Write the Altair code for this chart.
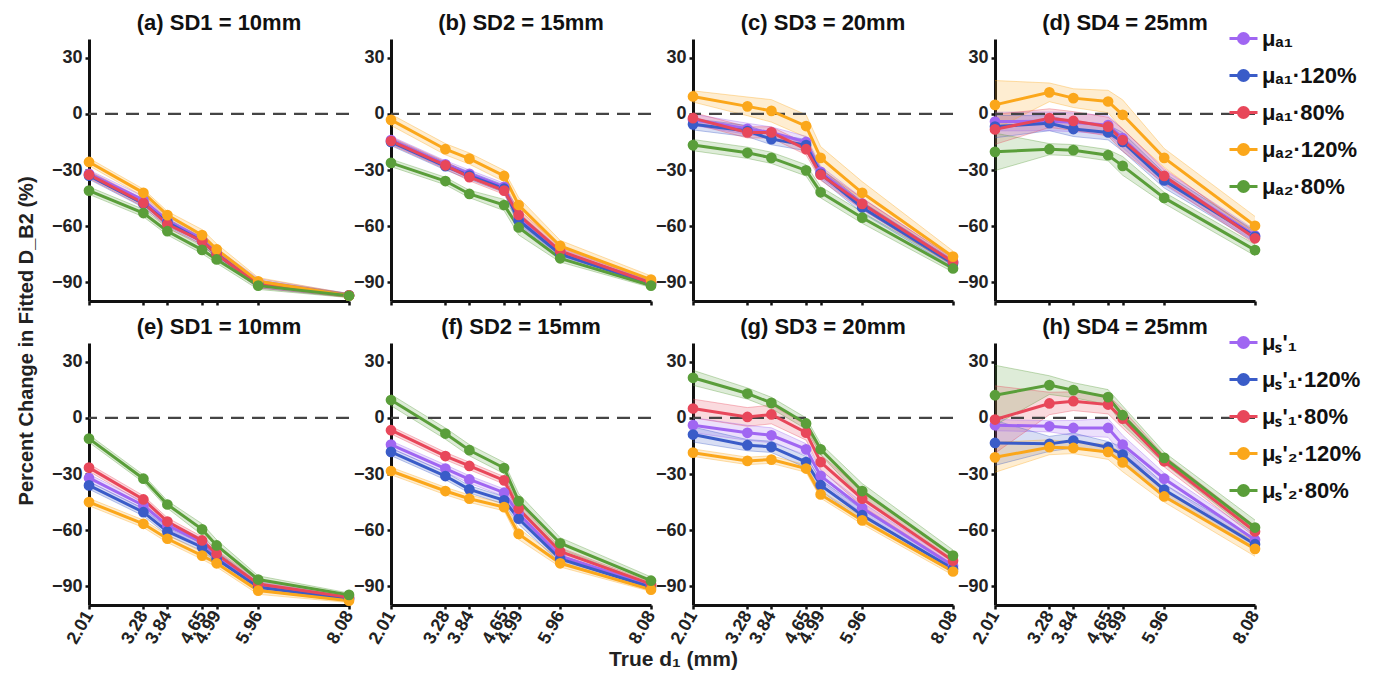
import altair as alt
import pandas as pd

d1 = [2.01, 3.28, 3.84, 4.65, 4.99, 5.96, 8.08]
y_ticks = [-90, -60, -30, 0, 30]

top_series = ["μₐ₁", "μₐ₁·120%", "μₐ₁·80%", "μₐ₂·120%", "μₐ₂·80%"]
bot_series = ["μₛ'₁", "μₛ'₁·120%", "μₛ'₁·80%", "μₛ'₂·120%", "μₛ'₂·80%"]
colors = ["#A066F2", "#3A5CC8", "#E8475A", "#FBA71B", "#5A9E3A"]

panel_titles = ["(a) SD1 = 10mm", "(b) SD2 = 15mm", "(c) SD3 = 20mm", "(d) SD4 = 25mm",
                "(e) SD1 = 10mm", "(f) SD2 = 15mm", "(g) SD3 = 20mm", "(h) SD4 = 25mm"]

a_mean = [[-32, -46, -57, -67, -74, -90, -97],
          [-33, -48, -58, -68, -75, -91, -97],
          [-32.5, -47.6, -59, -68, -75, -91, -97],
          [-25.7, -42.2, -54.1, -64.8, -72.4, -89.5, -97.2],
          [-41, -53, -62.7, -72.7, -77.8, -91.8, -97.2]]
b_mean = [[-14, -27, -32, -39, -56, -74, -90],
          [-15, -28, -33, -40, -57, -75, -91],
          [-14.5, -27.5, -33.8, -41, -54, -73.3, -90.4],
          [-3.2, -18.9, -23.9, -33.2, -48.7, -70.6, -88.6],
          [-26.2, -35.9, -42.8, -48.7, -60.7, -77.2, -91.8]]
c_mean = [[-3.2, -8, -10, -15, -31, -48, -79],
          [-5.6, -9.2, -13.5, -16.7, -32, -50, -80],
          [-2.3, -9.9, -9.9, -18.9, -32.5, -48.1, -79.2],
          [9.3, 4, 1.6, -6.5, -23.5, -42.2, -76.3],
          [-16.7, -20.8, -23.5, -30.2, -41.9, -55.5, -82.6]]
d_mean = [[-4.1, -4, -4.5, -6, -13, -34, -65],
          [-6.8, -5, -8.1, -9.9, -15, -35.6, -65.6],
          [-8.3, -2.3, -3.8, -6.8, -14, -33.2, -66.5],
          [4.8, 11.5, 8.4, 6.6, -0.5, -23.5, -59.8],
          [-20.3, -18.9, -19.4, -22.1, -27.8, -44.9, -72.8]]
e_mean = [[-32.1, -46.8, -57.5, -66.4, -73.6, -89.6, -96.4],
          [-36.1, -50.4, -60.7, -69.1, -75.4, -90.5, -96.8],
          [-26.6, -43.6, -55.4, -65.5, -72.7, -88.8, -95.9],
          [-45, -56.6, -64.6, -73.6, -77.7, -92.3, -97.7],
          [-11.1, -32.5, -46.3, -59.6, -68.2, -86.4, -94.6]]
f_mean = [[-14.3, -27.1, -32.9, -40, -51.3, -73.9, -89.6],
          [-18.2, -31.1, -38.2, -44.1, -53.9, -75.4, -90.5],
          [-6.6, -20.4, -25.7, -33.4, -48.6, -71.4, -88.8],
          [-28.4, -39.1, -43.2, -47.7, -62, -77.7, -91.8],
          [9.5, -8.4, -17.3, -26.8, -44.5, -67, -87]]
g_mean = [[-3.9, -8, -9.3, -16.8, -31, -48.2, -79],
          [-8.9, -14.6, -15.5, -23.6, -36, -52, -80.7],
          [5, 0.5, 1.8, -7.9, -23.6, -43.2, -76.3],
          [-18.6, -23, -22.3, -27.1, -40.9, -54.8, -82.1],
          [21.4, 13, 8, -3, -16.8, -39.1, -73.6]]
h_mean = [[-3.9, -4.5, -5.4, -5.4, -14.3, -32.5, -65.2],
          [-13.4, -13.9, -12.1, -15.7, -19.6, -38.4, -67.5],
          [-0.9, 7.7, 8.9, 7.1, -0.4, -23.2, -60.7],
          [-21.1, -15.7, -16.1, -18.2, -23.8, -42, -70],
          [12.1, 17.5, 14.8, 11.1, 1.4, -21.4, -58.6]]

a_err = [[2, 2, 2, 2, 2, 2, 1], [2, 2, 2, 2, 2, 2, 1], [2, 2, 2, 2, 2, 2, 1],
         [2, 2, 2, 3, 3, 2, 1], [2, 2, 2, 2, 2, 2, 1]]
b_err = [[2, 2, 2, 2, 3, 2, 1], [2, 2, 2, 2, 3, 2, 1], [2, 2, 2, 2, 3, 2, 1],
         [3, 3, 3, 3, 4, 3, 2], [2, 2, 2, 3, 4, 2, 1]]
c_err = [[3, 3, 3, 3, 3, 3, 2], [3, 3, 3, 3, 3, 3, 2], [3, 3, 3, 3, 3, 3, 2],
         [3, 5, 6, 6, 6, 6, 3], [3, 3, 3, 3, 3, 3, 2]]
d_err = [[5, 5, 5, 5, 5, 4, 3], [6, 4, 4, 4, 5, 4, 3], [8, 5, 5, 5, 6, 4, 3],
         [13, 5, 5, 6, 8, 5, 5], [10, 3, 3, 3, 5, 3, 3]]
e_err = [[2, 2, 2, 2, 2, 2, 1], [2, 2, 2, 2, 2, 2, 1], [2, 2, 2, 2, 2, 2, 1],
         [2, 2, 2, 2, 2, 2, 1], [2, 2, 2, 3, 3, 2, 1]]
f_err = [[2, 2, 2, 2, 3, 2, 1], [2, 2, 2, 2, 3, 2, 1], [2, 2, 2, 2, 3, 2, 1],
         [2, 2, 2, 2, 3, 2, 1], [3, 3, 3, 3, 4, 3, 2]]
g_err = [[4, 4, 4, 3, 3, 3, 2], [4, 3, 3, 3, 3, 3, 2], [5, 5, 5, 4, 4, 4, 2],
         [2, 2, 2, 2, 2, 2, 2], [4, 3, 3, 3, 3, 4, 3]]
h_err = [[3, 3, 4, 5, 5, 3, 3], [12, 4, 4, 3, 4, 3, 3], [18, 6, 5, 5, 5, 3, 3],
         [8, 4, 3, 4, 5, 3, 4], [16, 5, 4, 4, 5, 3, 4]]

FONT = "Liberation Sans"
LEG_PATH = ("M-1,0L1,0M-0.36,0A0.36,0.36,0,1,0,0.36,0"
            "A0.36,0.36,0,1,0,-0.36,0Z")
LEG_Y = -16
TITLE_OFFSET = 4


def make_df(series, means, errs):
    rows = []
    for k, name in enumerate(series):
        for j, x in enumerate(d1):
            m = means[k][j]
            e = errs[k][j]
            rows.append({"x": x, "v": m, "lo": m - e, "hi": m + e,
                         "s": name, "k": k})
    return pd.DataFrame(rows)


def panel(title, series, means, errs, show_labels, show_legend, xtitle=None):
    df = make_df(series, means, errs)
    cs = alt.Scale(domain=series, range=colors)
    axis_kw = dict(values=d1, labels=show_labels, labelAngle=-60,
                   labelOverlap=False, labelFlush=False, format=".2f", grid=False)
    if xtitle:
        axis_kw.update(title=xtitle, titleX=282, titleAlign="center", titleFont=FONT,
                       titleFontSize=21, titleFontWeight="bold", titleColor="#222",
                       titlePadding=2)
    else:
        axis_kw.update(title=None)
    xenc = alt.X("x:Q", scale=alt.Scale(domain=[2.01, 8.08], nice=False, zero=False),
                 axis=alt.Axis(**axis_kw))
    yscale = alt.Scale(domain=[-100, 40], nice=False)
    yaxis = alt.Axis(values=y_ticks, title=None, grid=False)
    title_offset = TITLE_OFFSET
    if show_legend:
        leg = alt.Legend(title=None, orient="none", legendX=233, legendY=LEG_Y,
                         symbolType=LEG_PATH, symbolSize=784, symbolStrokeWidth=3,
                         symbolOpacity=1,
                         labelFont=FONT, labelFontSize=22, labelFontWeight="bold",
                         labelColor="#111", rowPadding=10, labelOffset=3,
                         labelLimit=300)
        title_offset = TITLE_OFFSET + LEG_Y
    else:
        leg = None
    col = alt.Color("s:N", scale=cs, legend=leg)
    base = alt.Chart(df)
    band = base.mark_area(fillOpacity=0.2).encode(
        x=xenc, y=alt.Y("lo:Q", scale=yscale, axis=yaxis), y2="hi:Q",
        color=col, order=alt.Order("k:Q"))
    lo_edge = base.mark_line(strokeWidth=0.8, strokeOpacity=0.45).encode(
        x=xenc, y=alt.Y("lo:Q", scale=yscale, axis=yaxis), color=col)
    hi_edge = base.mark_line(strokeWidth=0.8, strokeOpacity=0.45).encode(
        x=xenc, y=alt.Y("hi:Q", scale=yscale, axis=yaxis), color=col)
    zero = alt.Chart(pd.DataFrame({"z": [0]})).mark_rule(
        strokeDash=[13, 8], strokeWidth=2.4, color="#444").encode(
        y=alt.Y("z:Q", scale=yscale, axis=yaxis))
    line = base.mark_line(strokeWidth=3).encode(
        x=xenc, y=alt.Y("v:Q", scale=yscale, axis=yaxis), color=col,
        order=alt.Order("x:Q"))
    pts = base.mark_point(filled=True, size=115, opacity=1).encode(
        x=xenc, y=alt.Y("v:Q", scale=yscale, axis=yaxis), color=col)
    return alt.layer(band, lo_edge, hi_edge, zero, line, pts).properties(
        width=260, height=262,
        title=alt.TitleParams(title, font=FONT, fontSize=22, fontWeight="bold",
                              color="#111", anchor="middle", offset=title_offset,
                              frame="group"))


top_means = [a_mean, b_mean, c_mean, d_mean]
top_errs = [a_err, b_err, c_err, d_err]
bot_means = [e_mean, f_mean, g_mean, h_mean]
bot_errs = [e_err, f_err, g_err, h_err]

panels = [panel(panel_titles[i], top_series, top_means[i], top_errs[i], False, i == 3)
          for i in range(4)]
panels += [panel(panel_titles[4 + i], bot_series, bot_means[i], bot_errs[i], True, i == 3,
                 xtitle="True d₁ (mm)" if i == 1 else None)
           for i in range(4)]

chart = alt.concat(*panels, columns=4, spacing={"row": 42, "column": 42},
                   bounds="flush").resolve_scale(color="independent").properties(
    title=alt.TitleParams("Percent Change in Fitted D_B2 (%)", orient="left", anchor="middle",
                          font=FONT, fontSize=20, fontWeight="bold", color="#222", offset=14),
    padding={"left": 9, "top": 4, "right": 2, "bottom": 2}
).configure_view(stroke=None).configure_axis(
    domainColor="#111", domainWidth=3, tickColor="#111", tickWidth=2.5, tickSize=4,
    labelFont=FONT, labelFontSize=18, labelFontWeight="bold", labelColor="#222",
    labelPadding=3
)

chart.save("out.html", embed_options={"renderer": "svg", "actions": False})
